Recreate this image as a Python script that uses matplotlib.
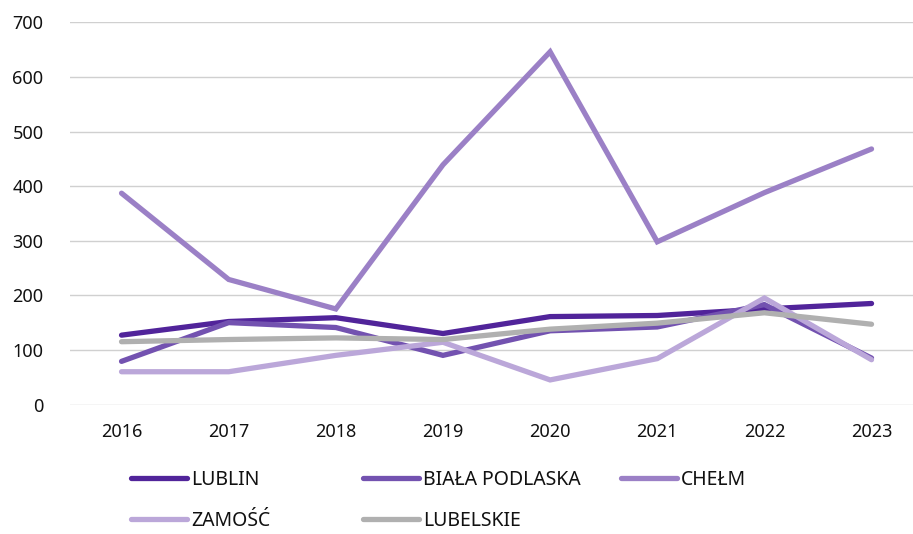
import matplotlib
matplotlib.use("Agg")
import matplotlib.pyplot as plt
from matplotlib.lines import Line2D

plt.rcParams['font.family'] = ['Noto Sans', 'DejaVu Sans']

years = ["2016", "2017", "2018", "2019", "2020", "2021", "2022", "2023"]
lublin = [127, 152, 159, 130, 161, 163, 175, 185]
biala_podlaska = [79, 150, 141, 90, 135, 142, 183, 85]
chelm = [387, 229, 175, 439, 646, 298, 388, 468]
zamosc = [60, 60, 90, 114, 45, 84, 195, 82]
lubelskie = [115, 119, 122, 119, 138, 149, 168, 147]

series_names = ["LUBLIN", "BIAŁA PODLASKA", "CHEŁM", "ZAMOŚĆ", "LUBELSKIE"]
series_values = [lublin, biala_podlaska, chelm, zamosc, lubelskie]
colors = ["#51249a", "#7352b0", "#9b80c6", "#bba7d9", "#b0b0b0"]
y_ticks = [0, 100, 200, 300, 400, 500, 600, 700]

W, H = 913, 534
fig = plt.figure(figsize=(W / 100, H / 100), dpi=100)
ax = fig.add_axes([70 / W, (H - 404.5) / H, (913 - 70) / W, 382.2 / H])

x = list(range(len(years)))
lines = []
for name, vals, col in zip(series_names, series_values, colors):
    ln, = ax.plot(x, vals, color=col, lw=3.8, solid_capstyle='round',
                  solid_joinstyle='miter', label=name)
    lines.append(ln)

ax.set_xlim(-0.481, 7.387)
ax.set_ylim(0, 700)
ax.set_yticks(y_ticks)
ax.set_yticklabels([str(t) for t in y_ticks])
ax.set_xticks(x)
ax.set_xticklabels(years)
ax.grid(axis='y', color='#d0d0d0', lw=1.0)
ax.set_axisbelow(True)
for s in ax.spines.values():
    s.set_visible(False)
ax.tick_params(axis='both', length=0, labelsize=13, colors='#111111')
ax.tick_params(axis='y', pad=19)
ax.tick_params(axis='x', pad=13)

# legend entries, positioned individually
pos = [(131, 480), (363, 480), (621, 480), (131, 521), (363, 521)]
fs = 14
fs_px = fs * 100 / 72
for ln, (px, py) in zip(lines, pos):
    h = Line2D([], [], color=ln.get_color(), lw=3.8, solid_capstyle='round')
    leg = fig.legend([h], [ln.get_label()], loc='center left',
                     bbox_to_anchor=(px / W, 1 - py / H),
                     frameon=False, fontsize=fs, borderpad=0, borderaxespad=0,
                     handlelength=56 / fs_px, handletextpad=4 / fs_px)
    for t in leg.get_texts():
        t.set_color('#111111')

fig.savefig("out.png", dpi=100)
